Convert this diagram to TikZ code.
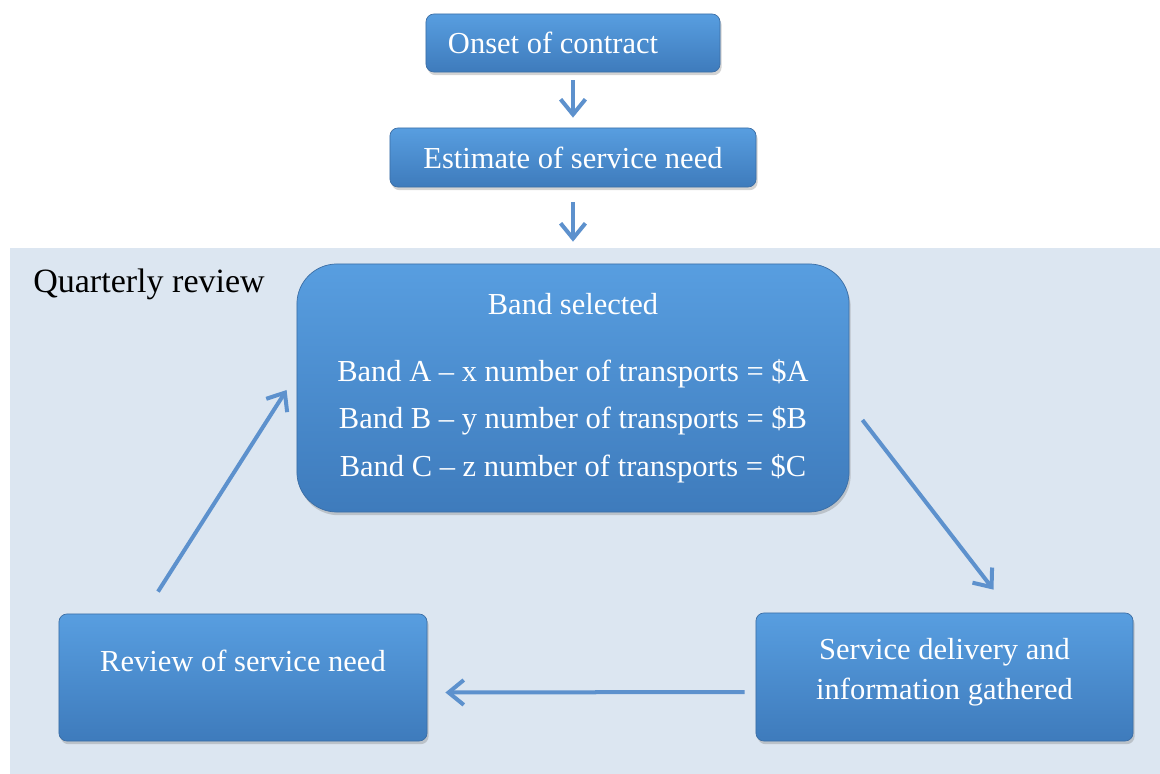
\documentclass[tikz,border=0pt]{standalone}
\usepackage{fontspec}
\setmainfont{Liberation Serif}
\usetikzlibrary{arrows.meta,calc,shadows}
\definecolor{regionfill}{RGB}{220,230,241}
\definecolor{boxtop}{RGB}{88,158,224}
\definecolor{boxbottom}{RGB}{62,123,188}
\definecolor{boxedge}{RGB}{60,110,165}
\definecolor{flowblue}{RGB}{93,145,205}
\tikzset{
  stepbox/.style={draw=boxedge, line width=0.5pt, rounded corners=0.2cm,
    top color=boxtop, bottom color=boxbottom, text=white, inner sep=0pt,
    font=\fontsize{21.7}{28.5}\selectfont,
    drop shadow={opacity=0.35, shadow xshift=0.04cm, shadow yshift=-0.08cm}},
  flow/.style={draw=flowblue, line width=0.1cm,
    -{Straight Barb[length=0.38cm,width=0.62cm]}},
}
\begin{document}
\begin{tikzpicture}[x=0.025cm, y=-0.025cm]
  \useasboundingbox (0,0) rectangle (1160,774);
  %%%%% quarterly region %%%%%
  \node[fill=regionfill, minimum width=28.75cm, minimum height=13.15cm, inner sep=0pt] (quarterly) at (585,511) {};
  \node[anchor=base west, inner sep=0pt, font=\fontsize{24.2}{29}\selectfont] (quarterlylabel) at (33,293) {Quarterly review};

  %%%%% boxes %%%%%
  \node[stepbox, minimum width=7.35cm, minimum height=1.45cm, text width=6.25cm, align=flush left] (onset) at (573,43) {Onset of contract};
  \node[stepbox, minimum width=9.15cm, minimum height=1.475cm] (estimate) at (573,157.5) {Estimate of service need};
  \node[stepbox, rounded corners=1cm, minimum width=13.8cm, minimum height=6.2cm, align=center,
        font=\fontsize{21.7}{33.8}\selectfont] (band) at (573,388)
        {Band selected\\[0.49cm]
         Band A -- x number of transports = \$A\\
         Band B -- y number of transports = \$B\\
         Band C -- z number of transports = \$C};
  \node[stepbox, minimum width=9.425cm, minimum height=3.2cm, align=center, text depth=0.42cm] (delivery) at (944.5,677)
        {Service delivery and\\information gathered};
  \node[stepbox, minimum width=9.2cm, minimum height=3.175cm, text height=0.55cm, text depth=0.83cm] (reviewbox) at (243,677.5)
        {Review of service need};

  %%%%% arrows %%%%%
  \draw[flow, shorten <=0.2cm, shorten >=0.25cm] (onset.south) -- (estimate.north);
  \draw[flow, shorten <=0.375cm, shorten >=0.15cm] (estimate.south) -- (estimate.south |- quarterly.north);
  \draw[flow] ($(band.east)+(13,32)$) -- ($(delivery.north)+(49,-23)$);
  \draw[flow] ($(delivery.west)+(-11,15)$) -- ($(reviewbox.east)+(18,15)$);
  \draw[flow] ($(reviewbox.north)+(-85,-22)$) -- ($(band.west)+(-10,2)$);
\end{tikzpicture}
\end{document}
